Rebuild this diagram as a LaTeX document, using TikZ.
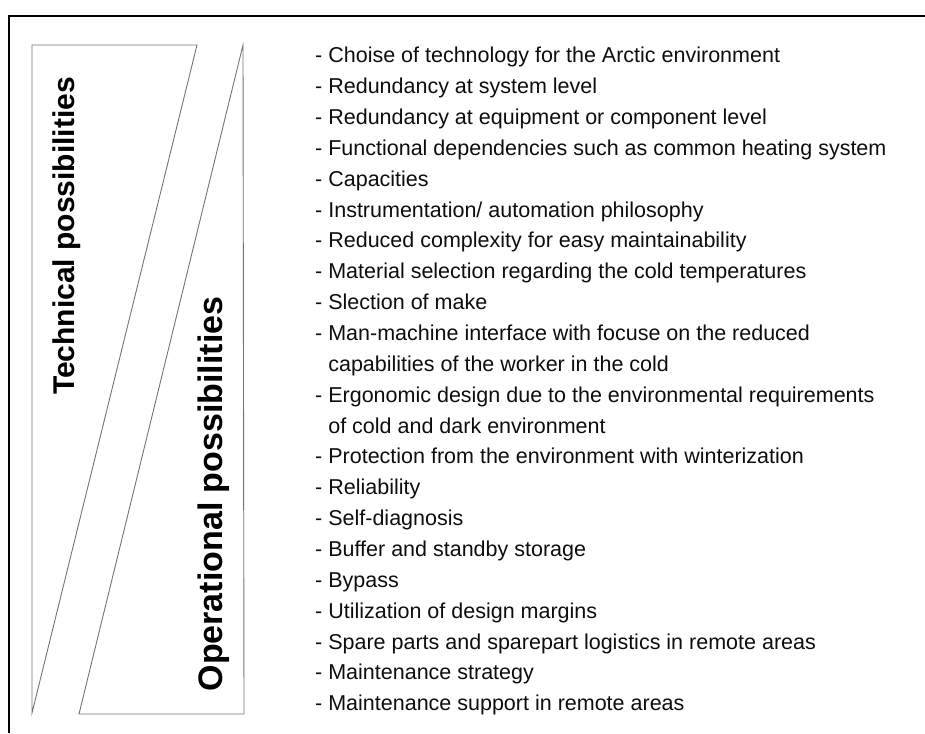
\documentclass[tikz,border=0pt]{standalone}
\usepackage{fontspec}
\setmainfont{Liberation Sans}
\begin{document}
\begin{tikzpicture}[x=1pt,y=-1pt,
  frame/.style={line width=2pt,black},
  wedge/.style={line width=0.9pt,black!55,line join=miter},
  title/.style={rotate=90,anchor=base,inner sep=0pt},
  entry/.style={font=\fontsize{21.5}{21.5}\selectfont,text=black!95,anchor=base west,inner sep=0pt}]
\useasboundingbox (0,0) rectangle (925,733);
% open frame: top and left edges only
\draw[frame] (925,16) -- (9,16) -- (9,733);
% the two opposing wedges
\draw[wedge] (32,45) -- (197,45) -- (32,713) -- cycle;
\draw[wedge] (243,45) -- (244,714) -- (79,714) -- cycle;
\node[title,font=\fontsize{30}{30}\selectfont\bfseries] (tech) at (74,236) {Technical possibilities};
\node[title,font=\fontsize{34}{34}\selectfont\bfseries] (oper) at (222.5,494) {Operational possibilities};
% list of measures
\foreach \t [count=\i from 0] in {
  {- Choise of technology for the Arctic environment},
  {- Redundancy at system level},
  {- Redundancy at equipment or component level},
  {- Functional dependencies such as common heating system},
  {- Capacities},
  {- Instrumentation/ automation philosophy},
  {- Reduced complexity for easy maintainability},
  {- Material selection regarding the cold temperatures},
  {- Slection of make},
  {- Man-machine interface with focuse on the reduced},
  {\hphantom{- }capabilities of the worker in the cold},
  {- Ergonomic design due to the environmental requirements},
  {\hphantom{- }of cold and dark environment},
  {- Protection from the environment with winterization},
  {- Reliability},
  {- Self-diagnosis},
  {- Buffer and standby storage},
  {- Bypass},
  {- Utilization of design margins},
  {- Spare parts and sparepart logistics in remote areas},
  {- Maintenance strategy},
  {- Maintenance support in remote areas}}
  \node[entry] (l\i) at (315,{62.7+\i*30.86}) {\t};
\end{tikzpicture}
\end{document}
